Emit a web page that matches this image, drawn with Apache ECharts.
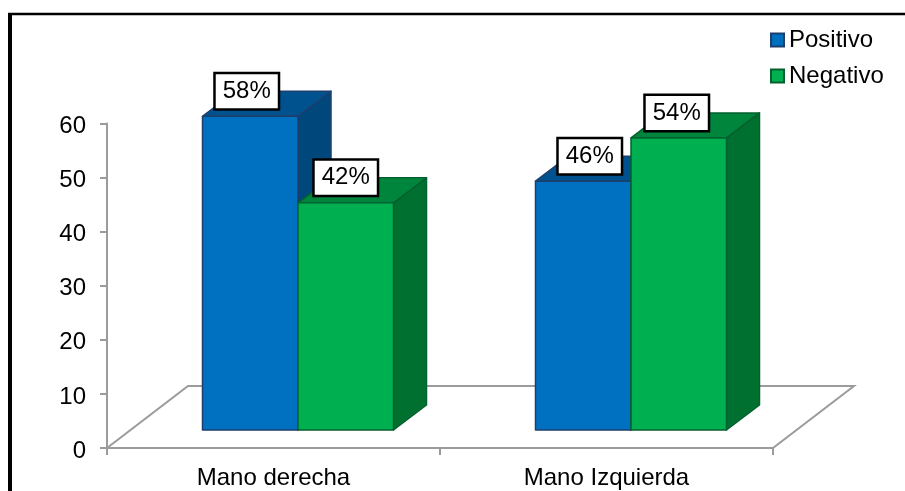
<!DOCTYPE html>
<html>
<head>
<meta charset="utf-8">
<script src="https://cdn.jsdelivr.net/npm/echarts@6/dist/echarts.min.js"></script>
<style>
html,body{margin:0;padding:0;background:#fff}
#chart{width:905px;height:491px}
</style>
</head>
<body>
<div id="chart"></div>
<script>
var categories=["Mano derecha","Mano Izquierda"]
var positivo=[58,46]
var negativo=[42,54]
var positivoLabels=["58%","46%"]
var negativoLabels=["42%","54%"]
var yTicks=[0,10,20,30,40,50,60]

var font="Liberation Sans"
var axisGray="#9b9b9b"
var floorX=81,floorY=62     // 3d floor depth
var barX=24.5,barY=18       // bars stand this far into the floor
var depthX=33,depthY=25     // depth of one bar
var barW=95.5

function box(pts,fill,stroke){
	return {type:"polygon",shape:{points:pts},style:{fill:fill,stroke:stroke,lineWidth:1.5,lineJoin:"round"}}
}

// one 3d bar: side:-1 left of the band centre, 1 right of it
function bar3d(side,colors,labels,nudge){
	return function(params,api){
		var i=api.value(0)
		var zero=api.coord([i,0])
		var top=api.coord([i,api.value(1)])
		var cx=zero[0]+barX
		var x0=side<0?cx-barW:cx
		var x1=x0+barW
		var y0=zero[1]-barY
		// front face height equals value on the axis scale, measured from the raised base
		var y1=y0-(zero[1]-top[1])
		return {type:"group",children:[
			box([[x1,y0],[x1+depthX,y0-depthY],[x1+depthX,y1-depthY],[x1,y1]],colors.side,colors.line),
			box([[x0,y1],[x1,y1],[x1+depthX,y1-depthY],[x0+depthX,y1-depthY]],colors.top,colors.line),
			box([[x0,y0],[x1,y0],[x1,y1],[x0,y1]],colors.front,colors.line),
			{type:"text",z2:50,style:{
				x:(x0+x1)/2+nudge[i],y:y1-25,text:labels[i],align:"center",verticalAlign:"middle",
				font:"24px '"+font+"'",fill:"#000",backgroundColor:"#fff",borderColor:"#000",borderWidth:2.5,
				padding:[6,7,4,7]
			}}
		]}
	}
}

var blue={front:"#0070c0",top:"#00528f",side:"#00477c",line:"#1c3f6e"}
var green={front:"#00b050",top:"#00853c",side:"#007030",line:"#04602f"}

var mychart=echarts.init(document.getElementById("chart"))
var option={
	backgroundColor:"#fff",
	animation:false,
	grid:{left:107,top:123.5,width:666,height:324.5,containLabel:false},
	legend:{
		left:770,top:28,padding:0,orient:"vertical",itemWidth:13,itemHeight:13,itemGap:12,
		icon:"rect",
		textStyle:{fontFamily:font,fontSize:24,color:"#000"},
		data:["Positivo","Negativo"]
	},
	xAxis:{
		type:"category",
		data:categories,
		axisLine:{lineStyle:{color:axisGray,width:2}},
		axisTick:{show:true,alignWithLabel:false,length:7,lineStyle:{color:axisGray,width:2}},
		axisLabel:{fontFamily:font,fontSize:24,color:"#000",margin:18}
	},
	yAxis:{
		type:"value",min:0,max:60,interval:10,
		splitLine:{show:false},
		axisLine:{show:true,lineStyle:{color:axisGray,width:2}},
		axisTick:{show:true,length:7,lineStyle:{color:axisGray,width:2}},
		axisLabel:{fontFamily:font,fontSize:24,color:"#000",margin:21,verticalAlign:"top",lineHeight:6,
			formatter:function(v){return yTicks.indexOf(v)>=0?v:""}}
	},
	graphic:[
		{type:"polyline",shape:{points:[[10,491],[10,14]]},style:{stroke:"#000",lineWidth:4,fill:null}},
		{type:"polyline",shape:{points:[[8,14],[905,14]]},style:{stroke:"#000",lineWidth:2.5,fill:null}}
	],
	series:[
		{
			name:"floor",type:"custom",silent:true,clip:false,z:1,
			data:[[0]],
			renderItem:function(params,api){
				var c=params.coordSys
				var b=c.y+c.height
				return {type:"polyline",shape:{points:[
					[c.x,b],[c.x+floorX,b-floorY],[c.x+c.width+floorX,b-floorY],[c.x+c.width,b]
				]},style:{stroke:axisGray,lineWidth:2,fill:null}}
			}
		},
		{
			name:"Positivo",type:"custom",clip:false,z:3,
			itemStyle:{color:blue.front,borderColor:blue.line,borderWidth:1},
			encode:{x:0,y:1},
			data:positivo.map(function(v,i){return [i,v]}),
			renderItem:bar3d(-1,blue,positivoLabels,[-3.5,6.5])
		},
		{
			name:"Negativo",type:"custom",clip:false,z:4,
			itemStyle:{color:green.front,borderColor:green.line,borderWidth:1},
			encode:{x:0,y:1},
			data:negativo.map(function(v,i){return [i,v]}),
			renderItem:bar3d(1,green,negativoLabels,[0,-2])
		}
	]
}
mychart.setOption(option)
</script>
</body>
</html>
